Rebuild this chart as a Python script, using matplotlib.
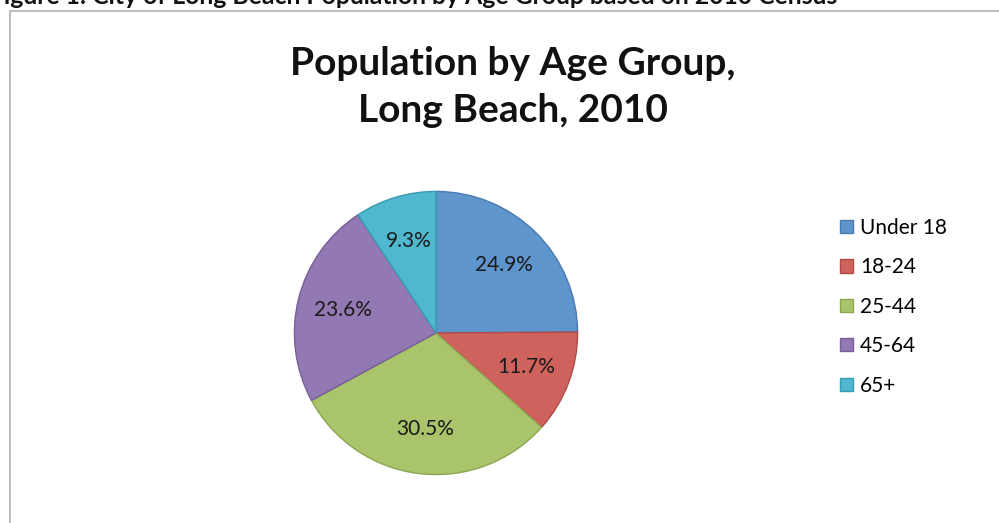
import matplotlib
matplotlib.use("Agg")
import matplotlib.pyplot as plt
from matplotlib.patches import Rectangle, Patch

plt.rcParams['font.family'] = ['Lato', 'DejaVu Sans']

categories = ["Under 18", "18-24", "25-44", "45-64", "65+"]
values = [24.9, 11.7, 30.5, 23.6, 9.3]
colors = ["#5F95CD", "#D0625D", "#A9C46B", "#9279B3", "#4FB8D0"]
edges = ["#4A7AB0", "#B04A46", "#8CA653", "#765E98", "#3B9AB0"]
title = "Population by Age Group,\nLong Beach, 2010"
caption = "Figure 1: City of Long Beach Population by Age Group based on 2010 Census"

W, H = 999, 523
fig = plt.figure(figsize=(W / 100, H / 100), dpi=100)

# chart border (extends past right/bottom edges)
fig.patches.append(Rectangle((10 / W, -0.1), 1.2, (H - 11) / H + 0.1, transform=fig.transFigure,
                             fill=False, edgecolor="#BDBDBD", linewidth=1.5))

# clipped caption at top
fig.text(-10 / W, 1 - 4 / H, caption, fontsize=17.8, fontweight='bold', ha='left', va='baseline',
         color='#111111')

cx, cy, r = 436, 333, 143
ax = fig.add_axes([(cx - r) / W, (H - cy - r) / H, 2 * r / W, 2 * r / H])
wedges, texts, autotexts = ax.pie(values, colors=colors, startangle=90, counterclock=False,
                                  autopct='%.1f%%', pctdistance=0.68,
                                  wedgeprops=dict(linewidth=1.0))
for w, e in zip(wedges, edges):
    w.set_edgecolor(e)
for t in autotexts:
    t.set_fontsize(15)
    t.set_color('#1a1a1a')
ax.set_xlim(-1.01, 1.01)
ax.set_ylim(-1.01, 1.01)
ax.set_aspect('equal')

fig.text(513 / W, 1 - 87 / H, title, fontsize=28, fontweight='bold', ha='center', va='center',
         linespacing=1.4, color='#111111')

handles = [Patch(facecolor=c, edgecolor=e, linewidth=1.0) for c, e in zip(colors, edges)]
fig.legend(handles, categories, loc='upper left', bbox_to_anchor=(840 / W, 1 - 218 / H),
           frameon=False, fontsize=15, handlelength=0.6, handleheight=0.6,
           handletextpad=0.35, labelspacing=0.93, borderpad=0, borderaxespad=0)

fig.savefig("out.png", dpi=100)
